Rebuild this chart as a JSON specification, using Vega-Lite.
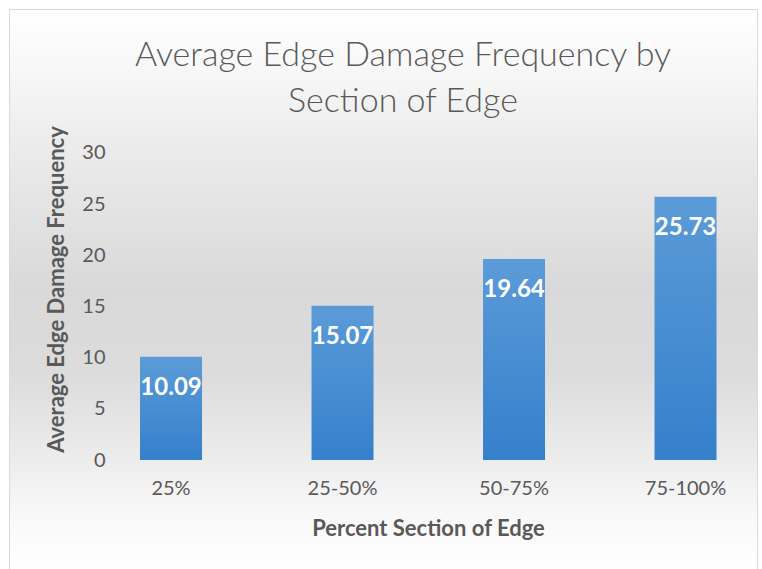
{
  "$schema": "https://vega.github.io/schema/vega-lite/v6.json",
  "width": 748,
  "height": 560,
  "autosize": {"type": "none"},
  "padding": {"left": 9, "top": 9, "right": 5, "bottom": 0},
  "background": "#ffffff",
  "view": {
    "fill": {
      "gradient": "linear",
      "x1": 0, "y1": 0, "x2": 0, "y2": 1,
      "stops": [
        {"offset": 0, "color": "#ffffff"},
        {"offset": 0.1, "color": "#f8f8f8"},
        {"offset": 0.25, "color": "#ebebeb"},
        {"offset": 0.5, "color": "#d9d9d9"},
        {"offset": 0.65, "color": "#dcdcdc"},
        {"offset": 0.8, "color": "#ececec"},
        {"offset": 0.9, "color": "#f8f8f8"},
        {"offset": 1, "color": "#ffffff"}
      ]
    },
    "stroke": "#d9d9d9",
    "strokeWidth": 1
  },
  "title": {
    "text": ["Average Edge Damage Frequency by", "Section of Edge"],
    "font": "Lato",
    "fontWeight": 300,
    "fontSize": 34,
    "color": "#595959",
    "anchor": "middle",
    "frame": "group",
    "baseline": "top",
    "offset": 0,
    "dy": 110,
    "dx": 20,
    "lineHeight": 46
  },
  "data": {
    "values": [
      {"section": "25%", "freq": 10.09},
      {"section": "25-50%", "freq": 15.07},
      {"section": "50-75%", "freq": 19.64},
      {"section": "75-100%", "freq": 25.73}
    ]
  },
  "encoding": {
    "x": {
      "field": "section",
      "type": "nominal",
      "sort": null,
      "scale": {"paddingInner": 0.6385, "paddingOuter": 0.5, "align": 0.764},
      "axis": {
        "title": "Percent Section of Edge",
        "labelAngle": 0,
        "domain": false,
        "ticks": false,
        "labelFont": "Lato",
        "labelFontSize": 20,
        "labelColor": "#595959",
        "labelPadding": 18,
        "titleFont": "Lato",
        "titleFontSize": 22,
        "titleFontWeight": "bold",
        "titleColor": "#595959",
        "titlePadding": 20,
        "titleX": 419,
        "titleAnchor": "middle",
        "offset": -109
      }
    },
    "y": {
      "field": "freq",
      "type": "quantitative",
      "scale": {"domain": [-10.65, 44.07], "nice": false, "zero": false},
      "axis": {
        "title": "Average Edge Damage Frequency",
        "values": [0, 5, 10, 15, 20, 25, 30],
        "grid": false,
        "domain": false,
        "ticks": false,
        "labelFont": "Lato",
        "labelFontSize": 20,
        "labelColor": "#595959",
        "labelPadding": 2,
        "titleFont": "Lato",
        "titleFontSize": 22,
        "titleFontWeight": "bold",
        "titleColor": "#595959",
        "titlePadding": 13,
        "offset": -98
      }
    }
  },
  "layer": [
    {
      "mark": {
        "type": "bar",
        "color": {
          "gradient": "linear",
          "x1": 0, "y1": 0, "x2": 0, "y2": 1,
          "stops": [
            {"offset": 0, "color": "#5b9bd7"},
            {"offset": 1, "color": "#3580cc"}
          ]
        }
      },
      "encoding": {"y2": {"datum": 0}}
    },
    {
      "mark": {
        "type": "text",
        "baseline": "middle",
        "dy": 31,
        "color": "#ffffff",
        "font": "Lato",
        "fontWeight": "bold",
        "fontSize": 24
      },
      "encoding": {"text": {"field": "freq", "type": "quantitative", "format": ".2f"}}
    }
  ]
}
